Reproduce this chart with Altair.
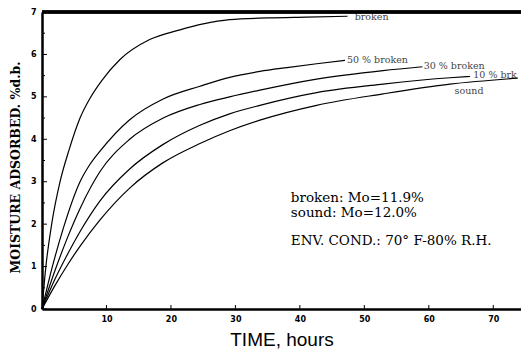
import altair as alt
import pandas as pd

# ---- data ----
broken_t = [0, 0.6, 1.5, 2.8, 4.2, 5.9, 7.5, 9.3, 12.1, 16.7, 21.4, 25, 29.1, 35, 41, 47.4]
broken_v = [0, 1.0, 2.0, 3.0, 3.75, 4.5, 4.98, 5.39, 5.88, 6.35, 6.58, 6.72, 6.82, 6.86, 6.88, 6.9]

p50_t = [0, 1.7, 3.3, 5.9, 7.4, 9.0, 13.6, 18.8, 24.5, 29.1, 33.8, 38, 42.6, 47]
p50_v = [0, 1.05, 1.9, 3.0, 3.4, 3.72, 4.46, 4.95, 5.25, 5.46, 5.6, 5.69, 5.78, 5.86]

p30_t = [0, 2.0, 4.0, 6.0, 9.0, 13.6, 18.8, 24.5, 29.1, 33.8, 42.6, 52.9, 59]
p30_v = [0, 0.9, 1.7, 2.4, 3.24, 4.0, 4.5, 4.82, 5.0, 5.16, 5.42, 5.62, 5.71]

p10_t = [0, 2.0, 4.0, 6.0, 9.0, 13.6, 18.8, 24.5, 29.1, 33.8, 42.6, 52.9, 63.3, 66.4]
p10_v = [0, 0.7, 1.3, 1.85, 2.55, 3.3, 3.88, 4.33, 4.6, 4.8, 5.1, 5.3, 5.45, 5.48]

sound_t = [0, 2.0, 4.0, 6.0, 9.0, 13.6, 18.8, 24.5, 29.1, 33.8, 42.6, 52.9, 63.3, 73.8]
sound_v = [0, 0.55, 1.05, 1.5, 2.1, 2.85, 3.45, 3.9, 4.2, 4.45, 4.8, 5.07, 5.3, 5.44]

series_names = ["broken", "50 % broken", "30 % broken", "10 % brk", "sound"]
label_t = [48.5, 47.3, 59.2, 66.9, 64.0]
label_v = [6.88, 5.88, 5.72, 5.52, 5.13]

note_text = ["broken: Mo=11.9%", "sound: Mo=12.0%", "ENV. COND.: 70\u00b0 F-80% R.H."]
note_t = [38.6, 38.6, 38.6]
note_v = [2.62, 2.26, 1.61]

y_ticks = [0, 1, 2, 3, 4, 5, 6, 7]
y_minor = [0.5, 1.5, 2.5, 3.5, 4.5, 5.5, 6.5]
x_ticks = [10, 20, 30, 40, 50, 60, 70]

# ---- build tables ----
rows = []
for name, ts, vs in zip(series_names,
                        [broken_t, p50_t, p30_t, p10_t, sound_t],
                        [broken_v, p50_v, p30_v, p10_v, sound_v]):
    for i, (t, v) in enumerate(zip(ts, vs)):
        rows.append({"series": name, "t": t, "v": v, "order": i})
curves = pd.DataFrame(rows)
labels = pd.DataFrame({"text": series_names, "t": label_t, "v": label_v})
notes = pd.DataFrame({"text": note_text, "t": note_t, "v": note_v})
yt = pd.DataFrame({"v": y_ticks})
ym = pd.DataFrame({"v": y_minor})
xt = pd.DataFrame({"t": x_ticks})

xscale = alt.Scale(domain=[0, 74.3], nice=False, zero=False)
yscale = alt.Scale(domain=[0, 7], nice=False)

xaxis = alt.Axis(values=x_ticks, title="TIME, hours", grid=False, ticks=False,
                 domainWidth=2.5, domainColor="black",
                 labelFont="DejaVu Sans", labelFontSize=8, labelFontWeight="bold",
                 labelColor="black", labelPadding=6,
                 titleFont="Liberation Sans", titleFontSize=19, titleFontWeight="normal",
                 titleColor="black", titlePadding=7)
yaxis = alt.Axis(values=y_ticks, title="MOISTURE ADSORBED. %d.b.", grid=False, ticks=False,
                 domainWidth=2.5, domainColor="black",
                 labelFont="DejaVu Sans", labelFontSize=8, labelFontWeight="bold",
                 labelColor="black", labelPadding=6,
                 titleFont="DejaVu Serif", titleFontSize=12.5, titleFontWeight="bold",
                 titleColor="black", titlePadding=8, titleY=155)

lines = alt.Chart(curves).mark_line(color="black", strokeWidth=1.2, interpolate="monotone").encode(
    x=alt.X("t:Q", scale=xscale, axis=xaxis),
    y=alt.Y("v:Q", scale=yscale, axis=yaxis),
    detail="series:N",
    order="order:Q",
)

lab = alt.Chart(labels).mark_text(align="left", baseline="middle", font="DejaVu Serif",
                                   fontSize=9.5, color="#444").encode(
    x=alt.X("t:Q", scale=xscale), y=alt.Y("v:Q", scale=yscale), text="text:N")

note = alt.Chart(notes).mark_text(align="left", baseline="middle", font="DejaVu Serif",
                                   fontSize=13.5, color="black").encode(
    x=alt.X("t:Q", scale=xscale), y=alt.Y("v:Q", scale=yscale), text="text:N")

ytick = alt.Chart(yt).mark_rule(color="black", strokeWidth=1).encode(
    y=alt.Y("v:Q", scale=yscale), x=alt.value(0), x2=alt.value(5))
ymin = alt.Chart(ym).mark_rule(color="black", strokeWidth=1).encode(
    y=alt.Y("v:Q", scale=yscale), x=alt.value(0), x2=alt.value(3))
xtick = alt.Chart(xt).mark_rule(color="black", strokeWidth=1).encode(
    x=alt.X("t:Q", scale=xscale), y=alt.value(297), y2=alt.value(293))
top = alt.Chart(yt).mark_rule(color="black", strokeWidth=2.5).encode(
    y=alt.value(0), x=alt.value(0), x2=alt.value(479))

chart = alt.layer(lines, lab, note, ytick, ymin, xtick, top).properties(
    width=479, height=297,
    autosize=alt.AutoSizeParams(type="none"),
    padding={"left": 34, "top": 4, "right": 0, "bottom": 42},
).configure_view(stroke=None).configure(background="white")

chart.save("out.html", embed_options={"renderer": "svg", "actions": False})
